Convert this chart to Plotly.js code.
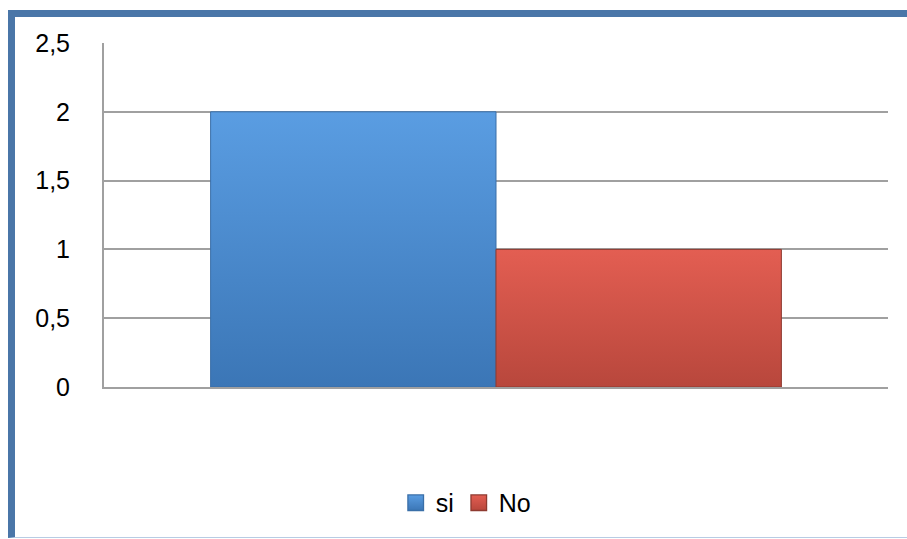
<!DOCTYPE html>
<html>
<head>
<meta charset="utf-8">
<script src="https://cdn.plot.ly/plotly-3.0.1.min.js"></script>
<style>
  html, body { margin: 0; padding: 0; background: #ffffff; overflow: hidden; }
  #frame {
    position: absolute; left: 8px; top: 10px;
    width: 920px; height: 520px;
    border-left: 7px solid #4a76a8;
    border-top: 7px solid #4a76a8;
    border-bottom: 1px solid #b8cce4;
  }
  #chart { width: 892px; height: 520px; }
</style>
</head>
<body>
<div id="frame"><div id="chart"></div></div>
<script>
// Single category, two answers
const categories = ['Respuesta'];
const seriesNames = ['si', 'No'];
const siValues = [2];
const noValues = [1];
const yTicks = [0, 0.5, 1, 1.5, 2, 2.5];

const traces = [
  {
    type: 'bar', name: seriesNames[0], x: categories, y: siValues,
    marker: { color: '#4a8bd0', line: { color: '#3a6fa8', width: 1 } },
    hoverinfo: 'skip'
  },
  {
    type: 'bar', name: seriesNames[1], x: categories, y: noValues,
    marker: { color: '#d65448', line: { color: '#8e3a30', width: 1 } },
    hoverinfo: 'skip'
  }
];

const layout = {
  width: 892, height: 520,
  margin: { l: 89, r: 19, t: 26, b: 150, autoexpand: false },
  paper_bgcolor: '#ffffff', plot_bgcolor: '#ffffff',
  separators: ',.',
  font: { family: 'Liberation Sans, Arial, sans-serif', size: 25, color: '#000000' },
  barmode: 'group', bargap: 0.272, bargroupgap: 0,
  showlegend: true,
  legend: {
    orientation: 'h', x: 0.462, xanchor: 'center', y: -0.337, yanchor: 'middle',
    font: { size: 25 }, itemwidth: 30, traceorder: 'normal'
  },
  xaxis: {
    showticklabels: false, ticks: '', showgrid: false, zeroline: false,
    showline: true, linecolor: '#a0a0a0', linewidth: 2, fixedrange: true
  },
  yaxis: {
    range: [0, 2.5], tickvals: yTicks, ticks: '', ticklabelstandoff: 27,
    showgrid: true, gridcolor: '#a0a0a0', gridwidth: 2, zeroline: false,
    showline: true, linecolor: '#a0a0a0', linewidth: 2, fixedrange: true
  }
};

// Vertical shading for the bar faces
const gradients = [
  { id: 'gradSi', top: '#5a9de2', bottom: '#3b76b6' },
  { id: 'gradNo', top: '#e35e52', bottom: '#b8473c' }
];

Plotly.newPlot('chart', traces, layout, { displayModeBar: false, staticPlot: true }).then(function (gd) {
  const svg = gd.querySelector('svg.main-svg');
  const ns = 'http://www.w3.org/2000/svg';
  let defs = svg.querySelector('defs');
  if (!defs) { defs = document.createElementNS(ns, 'defs'); svg.insertBefore(defs, svg.firstChild); }
  gradients.forEach(function (g) {
    const lg = document.createElementNS(ns, 'linearGradient');
    lg.setAttribute('id', g.id);
    lg.setAttribute('x1', '0'); lg.setAttribute('y1', '0');
    lg.setAttribute('x2', '0'); lg.setAttribute('y2', '1');
    [[0, g.top], [1, g.bottom]].forEach(function (s) {
      const st = document.createElementNS(ns, 'stop');
      st.setAttribute('offset', s[0]);
      st.setAttribute('stop-color', s[1]);
      lg.appendChild(st);
    });
    defs.appendChild(lg);
  });
  gd.querySelectorAll('.barlayer .trace').forEach(function (t, i) {
    t.querySelectorAll('path').forEach(function (p) {
      p.style.fill = 'url(#' + gradients[i].id + ')';
    });
  });
  // Slightly larger swatches in the legend, kept on their own centre
  gd.querySelectorAll('.legend .traces').forEach(function (t, i) {
    t.querySelectorAll('.legendpoints path').forEach(function (p) {
      p.style.fill = 'url(#' + gradients[i].id + ')';
      const prev = p.getAttribute('transform') || '';
      p.setAttribute('transform', prev + ' scale(1.3)');
    });
  });
});
</script>
</body>
</html>
